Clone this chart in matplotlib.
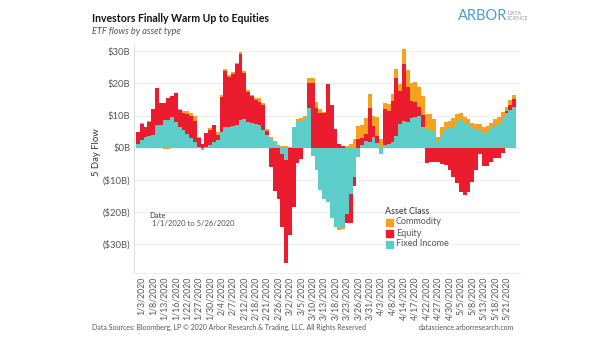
import numpy as np
import pandas as pd
import matplotlib
matplotlib.use('Agg')
import matplotlib.pyplot as plt
from matplotlib.patches import Rectangle

plt.rcParams['font.family'] = ['Lato', 'DejaVu Sans']

# trading days 1/2/2020 - 5/26/2020
holidays = ['2020-01-20', '2020-02-17', '2020-04-10', '2020-05-25']
dates = pd.bdate_range('2020-01-02', '2020-05-26', freq='C', holidays=holidays)

# 5 day flows, $B
fixed_income = [1.3, 2.4, 3.2, 3.6, 3.9, 7.0, 7.0, 8.6, 8.6, 9.6,
                8.1, 6.3, 5.5, 4.2, 2.9, 1.9, 0.3, -0.7, 0.3, 0.8,
                1.9, 2.4, 5.0, 6.3, 6.3, 6.6, 7.0, 8.6, 8.8, 8.1,
                7.6, 7.4, 7.2, 5.4, 3.9, 2.8, 1.8, 0.7, -1.9, -3.9,
                0.1, 6.0, 8.3, 8.3, 9.2, 12.2, -2.5, -7.0, -13.0, -16.0,
                -17.0, -21.8, -24.6, -25.0, -24.5, -20.5, -14.5, -9.0, -2.8, 1.0,
                2.1, 1.9, 3.3, 1.4, -2.1, 1.0, 1.3, 1.9, 3.6, 7.5,
                8.3, 8.1, 9.1, 9.6, 9.8, 6.5, 5.5, 5.5, 5.0, 2.2,
                3.6, 5.5, 6.3, 6.3, 8.1, 8.6, 7.6, 7.3, 6.3, 5.7,
                5.5, 4.7, 5.2, 6.3, 7.0, 7.6, 9.1, 10.9, 11.7, 12.7]
equity = [3.7, 5.0, 3.1, 4.3, 8.0, 11.6, 7.0, 5.2, 6.7, 6.4,
          8.8, 5.4, 5.3, 6.3, 7.0, 6.5, 2.6, 1.2, 4.2, 4.7,
          5.1, 1.5, 10.9, 17.5, 15.8, 16.4, 18.9, 20.4, 14.4, 9.3,
          8.5, 7.3, 6.9, 7.8, 1.3, -6.0, -13.5, -16.0, -22.7, -31.8,
          -27.1, -18.4, -4.7, -3.6, 0.0, 7.8, 20.0, 12.4, 10.7, 10.9,
          19.8, 13.4, 5.7, 1.2, 0.5, -3.0, -9.0, -2.8, 2.6, 2.1,
          2.2, 10.5, 3.4, 2.2, 0.0, 10.9, 10.1, 12.6, 18.1, 10.1,
          17.6, 10.7, 5.5, 4.5, 2.9, 3.7, -4.8, -4.5, -4.5, -4.5,
          -5.0, -5.5, -6.9, -9.0, -11.1, -13.7, -14.8, -13.6, -10.6, -6.9,
          -1.8, -5.7, -5.7, -4.5, -3.3, -3.3, -1.6, 0.6, 1.6, 2.3]
commodity = [0.0, 0.2, 0.0, 0.4, 0.0, 0.0, -0.2, -0.3, -0.4, -0.2,
             0.0, 0.3, 0.6, 0.9, 1.0, 1.3, 0.5, 0.1, 0.0, 0.5,
             0.0, 1.1, 0.5, 0.5, 0.4, 0.5, 0.5, 0.6, 0.6, 0.5,
             0.3, 0.8, 1.2, 0.6, 0.7, 0.6, 0.4, 0.3, 0.4, 0.4,
             0.2, 0.4, 0.5, 0.9, 0.5, 1.8, 1.8, 1.9, 1.2, 0.2,
             0.0, 0.0, 0.0, -0.6, -0.8, 0.5, 1.2, 2.6, 4.3, 4.1,
             4.8, 4.2, 3.3, 5.9, 2.6, 2.1, 2.1, 2.1, 2.6, 2.1,
             4.9, 5.4, 5.6, 6.2, 6.3, 6.0, 5.0, 5.0, 3.8, 1.0,
             2.9, 2.6, 2.1, 2.8, 2.4, 2.3, 1.8, 1.5, 1.5, 1.6,
             1.8, 1.6, 1.4, 1.5, 1.8, 1.8, 2.1, 1.2, 1.5, 1.4]

series_names = ['Commodity', 'Equity', 'Fixed Income']
colors = {'Commodity': '#F7A21E', 'Equity': '#EA1C2D', 'Fixed Income': '#5DCDC9'}
yticks = [30, 20, 10, 0, -10, -20, -30]
ytick_labels = ['$30B', '$20B', '$10B', '$0B', '($10B)', '($20B)', '($30B)']

W, H = 605, 341
fig = plt.figure(figsize=(W / 100, H / 100), dpi=100)
ax = fig.add_axes([134 / W, (H - 273) / H, (520 - 134) / W, (273 - 45) / H])

x = np.arange(len(dates))
pos = np.zeros(len(x))
neg = np.zeros(len(x))
# stack order from zero outward: fixed income, equity, commodity
for name, vals in [('Fixed Income', fixed_income), ('Equity', equity), ('Commodity', commodity)]:
    v = np.array(vals)
    bottom = np.where(v >= 0, pos, neg)
    ax.bar(x, v, bottom=bottom, width=1.0, color=colors[name], linewidth=0, zorder=3)
    pos += np.clip(v, 0, None)
    neg += np.clip(v, None, 0)

ax.set_xlim(-1.03, 100.55)
ax.set_ylim(-38.9, 31.9)
ax.set_yticks(yticks)
ax.set_yticklabels(ytick_labels)
ax.grid(axis='y', color='#eeeeee', linewidth=0.8, zorder=0)
tick_idx = list(range(1, len(dates), 3))
ax.set_xticks(tick_idx)
ax.set_xticklabels([f'{dates[i].month}/{dates[i].day}/{dates[i].year}' for i in tick_idx],
                   rotation=90, fontsize=6.3, color='#555555')
ax.tick_params(axis='both', length=0, pad=2.5)
ax.tick_params(axis='y', labelsize=6.8, labelcolor='#555555')
for s in ['top', 'right']:
    ax.spines[s].set_visible(False)
ax.spines['left'].set_color('#dddddd')
ax.spines['bottom'].set_color('#eeeeee')
ax.spines['left'].set_linewidth(0.8)
ax.spines['bottom'].set_linewidth(0.8)

fig.text(97 / W, 1 - 152 / H, '5 Day Flow', rotation=90, ha='center', va='center',
         fontsize=6.8, color='#333333')

# titles
fig.text(92 / W, 1 - 18 / H, 'Investors Finally Warm Up to Equities', fontsize=7.6,
         fontweight='bold', color='#111111', va='center')
fig.text(92 / W, 1 - 31 / H, 'ETF flows by asset type', fontsize=6.6, style='italic',
         color='#555555', va='center')

# logo
fig.text(458 / W, 1 - 16 / H, 'ARBOR', fontsize=10.5, color='#4A9BD4', va='center')
fig.text(507 / W, 1 - 13.5 / H, 'DATA', fontsize=3.8, color='#999999', va='center')
fig.text(507 / W, 1 - 18.5 / H, 'SCIENCE', fontsize=3.8, color='#999999', va='center')

# date filter note
fig.text(149 / W, 1 - 215 / H, 'Date', fontsize=5.5, color='#333333', va='center')
fig.text(152 / W, 1 - 224 / H, '1/1/2020 to 5/26/2020', fontsize=5.5, color='#555555', va='center')

# legend
fig.text(385 / W, 1 - 211 / H, 'Asset Class', fontsize=6.5, color='#333333', va='center')
for k, name in enumerate(series_names):
    yc = 222 + 11 * k
    fig.patches.append(Rectangle((386 / W, 1 - (yc + 3.5) / H), 7 / W, 7 / H,
                                 transform=fig.transFigure, color=colors[name]))
    fig.text(396 / W, 1 - yc / H, name, fontsize=6.5, color='#555555', va='center')

# footer
fig.text(92 / W, 1 - 327 / H,
         'Data Sources: Bloomberg, LP \u00a9 2020 Arbor Research & Trading, LLC. All Rights Reserved',
         fontsize=5.0, color='#555555', va='center')
fig.text(514 / W, 1 - 327 / H, 'datascience.arborresearch.com', fontsize=5.0,
         color='#555555', va='center', ha='right')

fig.savefig('out.png', dpi=100)
